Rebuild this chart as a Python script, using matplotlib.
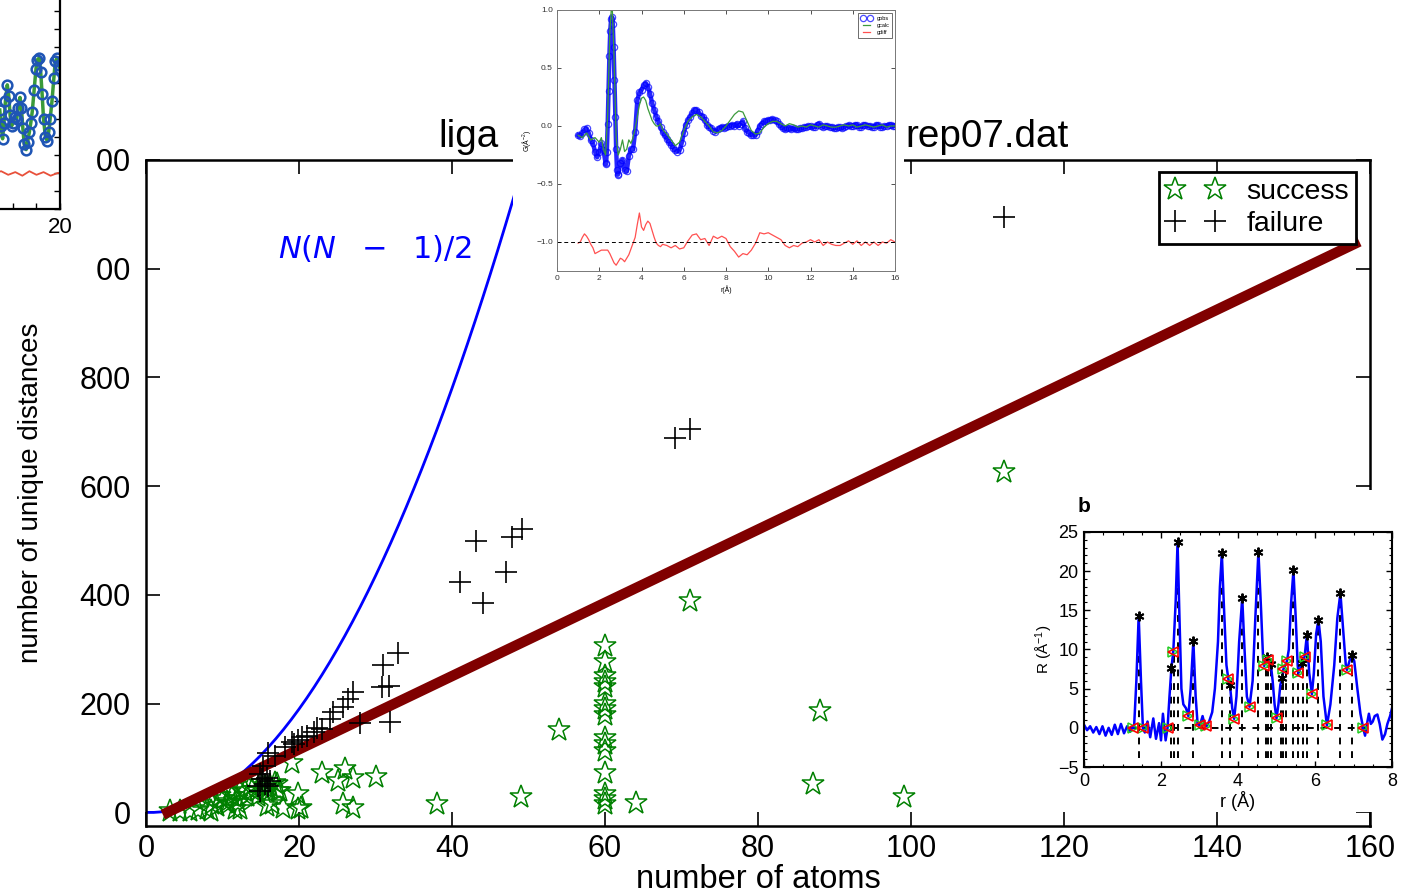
import matplotlib.pyplot as plt
import numpy as np
from matplotlib.patches import Rectangle
from matplotlib.ticker import MultipleLocator

plt.rcParams["font.family"] = ["Liberation Sans", "DejaVu Sans"]
plt.rcParams["mathtext.fontset"] = "custom"
plt.rcParams["mathtext.rm"] = "Liberation Sans"
plt.rcParams["mathtext.it"] = "Liberation Sans:italic"
plt.rcParams["mathtext.bf"] = "Liberation Sans:bold"

W, H = 1417, 894

# ---- main panel data -------------------------------------------------------
pair_n = list(range(0, 51))
pair_count = [0, 0, 1, 3, 6, 10, 15, 21, 28, 36, 45, 55, 66, 78, 91, 105, 120, 136,
              153, 171, 190, 210, 231, 253, 276, 300, 325, 351, 378, 406, 435, 465,
              496, 528, 561, 595, 630, 666, 703, 741, 780, 820, 861, 903, 946, 990,
              1035, 1081, 1128, 1176, 1225]

fit_x = [2.2, 158.6]
fit_y = [-4, 1050]

success_x = [3.1, 4.5, 5.8, 6.8, 8.0, 8.5, 9.3, 8.6, 10.0, 10.7, 10.6, 9.7, 11.0, 11.3,
             11.6, 11.9, 12.0, 12.3, 12.3, 13.0, 13.2, 13.6, 13.9, 14.5, 14.7, 14.9,
             15.6, 15.8, 15.8, 16.2, 16.5, 16.9, 17.1, 17.3, 17.5, 17.9, 19.1, 19.9,
             19.9, 20.2, 23.0, 25.1, 26.0, 27.1, 30.0, 25.8, 27.1, 38.1, 49.0, 54.0,
             60, 60, 60, 60, 60, 60, 60, 60, 60, 60, 60, 60, 60, 60, 60,
             64.0, 71.1, 87.2, 88.1, 99.1, 112.2]
success_y = [2, 2, 3, 5, 6, 2, 11, 15, 24, 15, 20, 30, 37, 30,
             6, 24, 18, 42, 6, 39, 30, 48, 42, 39, 30, 55,
             46, 37, 11, 48, 15, 55, 52, 39, 39, 8, 90, 33,
             6, 9, 73, 57, 79, 64, 66, 15, 9, 15, 28, 151,
             306, 277, 251, 239, 230, 199, 190, 180, 137, 125, 113, 73, 33, 24, 15,
             18, 388, 52, 186, 29, 626]

failure_x = [112.2, 69.1, 71.1, 41.1, 43.1, 44.1, 47.0, 47.9, 49.1, 33.0, 31.0, 31.7,
             30.9, 31.9, 28.0, 27.1, 26.4, 25.7, 24.5, 24.1, 23.0, 22.4, 21.9, 21.0,
             20.4, 19.9, 19.3, 18.2, 19.1, 16.9, 16.0, 15.3, 14.9, 15.2, 15.6, 16.0,
             14.7, 14.9, 15.8, 16.2]
failure_y = [1095, 688, 705, 423, 500, 385, 442, 506, 521, 294, 272, 232,
             230, 167, 165, 221, 208, 193, 184, 171, 153, 156, 147, 140,
             138, 134, 125, 120, 129, 103, 110, 85, 70, 61, 52, 48,
             48, 39, 64, 57]

x_ticks = list(range(0, 161, 20))
y_ticks = list(range(0, 1201, 200))

# visible pieces of the title (its middle is hidden under the inset)
title_left = "liga"
title_right = "rep07.dat"

# ---- top centre inset (PDF fit) --------------------------------------------
r_obs = np.concatenate([np.arange(10, 24) / 10, np.arange(232, 289, 4) / 100,
                        np.arange(29, 161) / 10])
g_obs = [-0.08, -0.09, -0.06, -0.03, -0.02, -0.06, -0.12, -0.15, -0.22, -0.27,
         -0.22, -0.15, -0.21, -0.32,
         -0.33, -0.22, 0.02, 0.30, 0.60, 0.82, 0.92, 0.94, 0.88, 0.68, 0.40, 0.08,
         -0.20, -0.38, -0.42,
         -0.41, -0.32, -0.29, -0.38, -0.39, -0.26, -0.20, -0.20, -0.05, 0.22,
         0.29, 0.31, 0.35, 0.37, 0.34, 0.28, 0.20, 0.14, 0.08, 0.04,
         -0.01, -0.05, -0.08, -0.11, -0.14, -0.16, -0.19, -0.21, -0.22, -0.21,
         -0.15, -0.06, 0.01, 0.05, 0.08, 0.11, 0.14, 0.14, 0.12, 0.09,
         0.08, 0.05, 0.01, -0.01, -0.02, -0.04, -0.05, -0.03, -0.02, -0.01,
         -0.02, -0.01, 0.00, 0.00, 0.01, 0.00, 0.02, 0.00, 0.02, 0.04,
         -0.02, -0.05, -0.06, -0.08, -0.08, -0.08, -0.04, 0.00, 0.02, 0.04,
         0.04, 0.05, 0.05, 0.06, 0.05, 0.04, 0.02, 0.00, -0.02, -0.03,
         -0.02, -0.02, -0.03, -0.02, -0.03, -0.03, -0.02, -0.02, -0.01, -0.01,
         0.00, 0.00, -0.01, -0.01, 0.01, 0.02, 0.00, -0.01, 0.00, 0.00,
         -0.01, -0.01, -0.02, -0.02, -0.01, -0.01, -0.02, -0.01, 0.00, 0.01,
         0.00, 0.00, 0.01, 0.01, -0.01, -0.01, 0.01, 0.01, 0.00, 0.00,
         -0.01, -0.01, 0.01, 0.01, -0.01, -0.01, 0.00, 0.00, 0.01, 0.01,
         0.00, 0.00]

r_calc = np.concatenate([np.arange(10, 51) / 10, np.arange(26, 81) / 5])
g_calc = [-0.08, -0.09, -0.10, -0.08, -0.06, -0.09, -0.12, -0.11, -0.10, -0.12,
          -0.14, -0.10, -0.20, -0.25, 0.10, 0.80, 1.10, 0.60, -0.10, -0.25,
          -0.20, -0.12, -0.22, -0.20, -0.12, -0.15, -0.10, -0.02, 0.08, 0.18,
          0.24, 0.25, 0.22, 0.15, 0.10, 0.05, 0.02, 0.00, 0.00, 0.02,
          -0.03,
          -0.07, -0.12, -0.17, -0.14, -0.04, 0.04, 0.08, 0.10, 0.08, 0.04,
          0.00, -0.05, -0.06, -0.04, 0.00, 0.05, 0.10, 0.13, 0.12, 0.04,
          -0.04, -0.07, -0.06, -0.01, 0.02, 0.04, 0.04, 0.02, 0.00, 0.02,
          0.01, -0.01, 0.00, -0.01, 0.01, 0.00, -0.01, 0.01, 0.00, -0.01,
          -0.01, 0.00, 0.01, 0.00, 0.01, -0.01, 0.00, 0.01, 0.00, -0.01,
          0.00, 0.01, -0.01, 0.00, 0.00]
g_diff = [-1.01, -1.00, -0.96, -0.93, -0.95, -0.98, -1.02, -1.05, -1.10, -1.09,
          -1.08, -1.07, -1.07, -1.07, -1.07, -1.10, -1.14, -1.18, -1.20, -1.17,
          -1.14, -1.15, -1.17, -1.14, -1.11, -1.06, -1.01, -0.96, -0.85, -0.75,
          -0.87, -0.90, -0.85, -0.82, -0.84, -0.90, -0.96, -1.01, -1.03, -1.04,
          -1.02,
          -1.03, -1.05, -1.03, -1.06, -1.05, -0.99, -0.94, -0.93, -0.98, -0.97,
          -1.03, -0.95, -0.97, -0.95, -0.97, -1.04, -1.08, -1.13, -1.10, -1.11,
          -1.07, -1.01, -0.92, -0.93, -0.92, -0.94, -0.96, -0.98, -1.03, -1.05,
          -1.03, -1.04, -1.01, -1.00, -0.98, -1.00, -0.98, -1.03, -1.00, -1.02,
          -1.03, -1.03, -1.01, -0.99, -1.02, -0.99, -1.03, -1.00, -1.03, -1.00,
          -1.03, -1.00, -1.01, -0.98, -1.00]

# ---- right inset "b" ---------------------------------------------------------
b_r = [0.00, 0.08, 0.16, 0.24, 0.32, 0.40, 0.48, 0.56, 0.64, 0.72, 0.80, 0.88, 0.96, 1.04, 1.12, 1.20,
       1.26, 1.30, 1.36, 1.42, 1.48, 1.53, 1.58, 1.65, 1.72, 1.80, 1.87, 1.95, 2.00, 2.05, 2.12, 2.17,
       2.22, 2.27, 2.32, 2.38, 2.43, 2.48, 2.53, 2.58, 2.65, 2.71, 2.77, 2.84, 2.90, 2.95, 3.01, 3.08,
       3.13, 3.18, 3.25, 3.33, 3.40, 3.48, 3.53, 3.58, 3.63, 3.70, 3.75, 3.79, 3.85, 3.90, 3.96, 4.03,
       4.11, 4.17, 4.23, 4.30, 4.38, 4.45, 4.53, 4.60, 4.65, 4.68, 4.72, 4.76, 4.79, 4.85, 4.90, 4.95,
       5.00, 5.05, 5.10, 5.15, 5.18, 5.23, 5.27, 5.32, 5.38, 5.44, 5.50, 5.55, 5.57, 5.62, 5.67, 5.73,
       5.79, 5.85, 5.92, 5.97, 6.03, 6.09, 6.15, 6.22, 6.31, 6.40, 6.50, 6.58, 6.66, 6.74, 6.80, 6.83,
       6.90, 6.96, 7.02, 7.10, 7.18, 7.25, 7.30, 7.35, 7.40, 7.45, 7.50, 7.55, 7.62, 7.68, 7.75, 7.82,
       7.88, 7.95, 8.00]
b_R = [0.4, -0.3, 0.2, -0.6, 0.1, -0.8, 0.2, -1.0, 0.0, -0.9, 0.4, -0.8, 0.5, -0.7, 0.2, -0.5,
       0.2, 0.0, 6.0, 14.3, 6.0, 0.0, -0.6, 0.8, -1.2, 1.2, -1.4, 0.6, -1.6, 1.8, -1.6, 0.0,
       4.0, 7.6, 9.8, 16.0, 23.7, 14.0, 5.0, 3.0, 2.5, 1.5, 5.0, 11.1, 4.0, 0.5, 0.3, 1.5,
       0.5, 0.2, 0.8, 2.0, 5.0, 11.0, 18.0, 22.3, 16.0, 8.0, 6.2, 5.5, 2.5, 1.15, 4.0, 11.0,
       16.6, 10.0, 4.0, 2.7, 6.0, 14.0, 22.5, 15.0, 9.0, 7.9, 8.8, 9.0, 8.6, 8.2, 6.0, 3.0,
       1.2, 3.0, 5.5, 6.3, 7.5, 8.0, 8.5, 10.0, 16.0, 20.1, 14.0, 8.0, 7.0, 7.6, 8.3, 9.1,
       11.9, 7.0, 4.3, 7.0, 12.0, 13.8, 11.0, 4.0, 0.3, 3.0, 8.0, 14.0, 17.2, 12.0, 8.0, 7.4,
       8.6, 9.3, 8.5, 5.0, 1.8, 0.0, -1.0, 0.5, 1.8, 0.5, 0.8, 1.5, 1.7, 0.5, -1.5, -0.8,
       0.5, 1.5, 2.5]
pk_r = [1.42, 2.27, 2.43, 2.84, 3.58, 3.79, 4.11, 4.53, 4.75, 4.85, 5.15, 5.44, 5.67, 5.79, 6.09, 6.66, 6.96]
pk_R = [14.3, 7.6, 23.7, 11.1, 22.3, 5.5, 16.6, 22.5, 9.0, 8.2, 6.3, 20.1, 8.3, 11.9, 13.8, 17.2, 9.3]
dist_r = [1.42, 2.27, 2.35, 2.43, 2.84, 3.58, 3.79, 4.11, 4.53, 4.72, 4.78, 4.85, 5.12, 5.18, 5.25,
          5.44, 5.57, 5.70, 5.79, 6.09, 6.66, 6.96]
dist_top = [14.3, 7.6, 9.8, 23.7, 11.1, 22.3, 5.5, 16.6, 22.5, 8.8, 9.0, 8.2, 5.5, 7.5, 8.3,
            20.1, 7.0, 9.1, 11.9, 13.8, 17.2, 9.3]
mn_r = [1.26, 1.54, 2.19, 2.32, 2.71, 3.01, 3.18, 3.75, 3.90, 4.30, 4.68, 4.79, 5.00, 5.18, 5.27,
        5.57, 5.73, 5.92, 6.31, 6.83, 7.25]
mn_R = [0.0, 0.0, 0.0, 9.7, 1.5, 0.3, 0.2, 6.2, 1.15, 2.7, 7.9, 8.6, 1.2, 7.5, 8.5,
        7.0, 9.1, 4.3, 0.3, 7.4, 0.0]

# ---- top-left cropped panel ---------------------------------------------------
tl_x = [7.2, 7.5, 7.8, 8.1, 8.4, 8.8, 9.1, 9.4, 9.7, 10.0,
        10.4, 10.8, 11.1, 11.5, 11.8, 12.1, 12.4, 12.8, 13.1, 13.5,
        13.8, 14.1, 14.5, 14.9, 15.2, 15.6, 15.9, 16.2, 16.5, 16.9,
        17.3, 17.6, 17.9, 18.3, 18.7, 19.0, 19.4, 19.8, 20.0]
tl_y = [5.5, 4.6, 3.9, 4.8, 6.0, 6.9, 6.3, 5.2, 4.6, 4.8,
        5.1, 5.0, 5.6, 6.2, 5.6, 4.5, 3.6, 3.3, 3.7, 4.3,
        4.8, 5.4, 6.6, 7.8, 8.3, 8.4, 7.6, 6.4, 5.0, 4.0,
        3.8, 4.3, 5.0, 6.0, 7.3, 8.2, 8.4, 8.0, 7.8]
tl_rx = [6.0, 7.5, 9.0, 10.5, 12.0, 13.5, 15.0, 16.5, 18.0, 19.5, 20.0]
tl_ry = [2.0, 2.1, 1.9, 2.05, 1.85, 2.1, 1.9, 2.05, 1.85, 2.0, 2.0]


def box(x0, y0, x1, y1):
    """pixel box (origin top-left) -> figure fraction rect"""
    return [x0 / W, 1 - y1 / H, (x1 - x0) / W, (y1 - y0) / H]


def white(fig, x0, y0, x1, y1):
    l, b, w, h = box(x0, y0, x1, y1)
    fig.add_artist(Rectangle((l, b), w, h, transform=fig.transFigure,
                             facecolor="white", edgecolor="none", zorder=2))


fig = plt.figure(figsize=(W / 100, H / 100), dpi=100)

# main axes
ax = fig.add_axes(box(146, 160, 1370, 826))
ax.plot(pair_n, pair_count, color="blue", lw=2, zorder=2)
ax.plot(success_x, success_y, ls="none", marker="*", ms=17, mfc="none", mec="green",
        mew=1.1, label="success", zorder=3)
ax.plot(fit_x, fit_y, color="#800000", lw=7.5, solid_capstyle="butt", zorder=4)
ax.plot(failure_x, failure_y, ls="none", marker="+", ms=16, mec="black", mew=1.2,
        label="failure", zorder=5)
ax.text(17.3, 1036, r"$N(N\enspace\,-\enspace\,1)/2$", color="blue", fontsize=22,
        va="center", math_fontfamily="dejavusans")
ax.set_xlim(0, 160)
ax.set_ylim(-25, 1200)
ax.set_xticks(x_ticks)
ax.set_yticks(y_ticks)
ax.tick_params(direction="in", top=True, right=True, length=10, width=1.2, labelsize=22)
ax.tick_params(axis="x", pad=6)
ax.tick_params(axis="y", pad=11)
for s in ax.spines.values():
    s.set_linewidth(1.8)
ax.text(0.239, 1.0188, title_left, transform=ax.transAxes, fontsize=27.8,
        ha="left", va="baseline")
ax.text(0.7541, 1.0188, title_right, transform=ax.transAxes, fontsize=27.8,
        ha="right", va="baseline")
ax.set_xlabel("number of atoms", fontsize=23.5)
ax.xaxis.set_label_coords(0.5, -0.0575)
ax.set_ylabel("number of unique distances", fontsize=20)
ax.yaxis.set_label_coords(-0.083, 0.5)
leg = ax.legend(loc="upper right", bbox_to_anchor=(0.9886, 0.982), borderaxespad=0,
                numpoints=2, fontsize=20.5, handlelength=2.0, handletextpad=0.8,
                borderpad=0.25, labelspacing=0.2, fancybox=False, framealpha=1,
                edgecolor="black")
leg.get_frame().set_linewidth(2)

# top centre inset
white(fig, 513, 0, 904, 297)
axc = fig.add_axes(box(557, 10, 895, 271))
axc.set_zorder(3)
axc.plot(r_obs, g_obs, color="blue", lw=3.2, alpha=0.85, solid_joinstyle="round")
axc.plot(r_obs, g_obs, ls="none", marker="o", ms=4.5, mfc="none", mec="blue", mew=0.9,
         alpha=0.7, label="gobs")
axc.plot(r_calc, g_calc, color="#3c9a3c", lw=0.9, label="gcalc")
axc.plot(r_calc, g_diff, color="#ff5050", lw=0.9, label="gdiff")
axc.axhline(-1.0, color="black", ls="--", lw=0.7, dashes=(4, 3))
axc.set_xlim(0, 16)
axc.set_ylim(-1.25, 1.0)
axc.set_xticks(range(0, 17, 2))
axc.set_yticks([-1.0, -0.5, 0.0, 0.5, 1.0])
axc.yaxis.set_major_formatter(plt.FuncFormatter(lambda v, p: f"{v:.1f}".replace("-", "\u2212")))
axc.tick_params(direction="in", top=True, right=True, length=3, width=0.6,
                labelsize=6, pad=3, colors="#333333")
for s in axc.spines.values():
    s.set_linewidth(0.7)
    s.set_color("#777777")
axc.set_xlabel("r(Å)", fontsize=5, labelpad=2)
axc.set_ylabel("G(Å$^{-2}$)", fontsize=5, labelpad=2)
lc = axc.legend(loc="upper right", fontsize=4, numpoints=2, handlelength=2,
                fancybox=False, framealpha=1, edgecolor="#555555", borderpad=0.5,
                labelspacing=0.4)
lc.get_frame().set_linewidth(0.6)

# right inset b
white(fig, 1030, 490, 1417, 812)
axb = fig.add_axes(box(1084, 532, 1392, 767))
axb.set_zorder(3)
axb.vlines(dist_r, -3.9, dist_top, colors="black", linestyles=(0, (3.5, 3.5)), lw=1.4)
axb.hlines(0, 1.2, 7.3, colors="black", linestyles=(0, (3.5, 3.5)), lw=1.4)
axb.plot(b_r, b_R, color="blue", lw=1.8)
axb.plot(pk_r, pk_R, ls="none", marker=(6, 2, 0), ms=7, mec="black", mew=1.4)
axb.plot(mn_r, mn_R, ls="none", marker=">", ms=7, mfc="none", mec="#22cc22", mew=1.1)
axb.plot(mn_r, mn_R, ls="none", marker="<", ms=7, mfc="none", mec="red", mew=1.2)
axb.set_xlim(0, 8)
axb.set_ylim(-5, 25)
axb.set_xticks([0, 2, 4, 6, 8])
axb.set_yticks([-5, 0, 5, 10, 15, 20, 25])
axb.yaxis.set_major_formatter(plt.FuncFormatter(lambda v, p: f"{v:g}".replace("-", "\u2212")))
axb.xaxis.set_minor_locator(MultipleLocator(0.5))
axb.yaxis.set_minor_locator(MultipleLocator(1))
axb.tick_params(which="both", direction="in", top=True, right=True, labelsize=13, pad=4)
axb.tick_params(which="major", length=4, width=1)
axb.tick_params(which="minor", length=2, width=0.8)
for s in axb.spines.values():
    s.set_linewidth(1.5)
axb.set_xlabel("r (Å)", fontsize=13, labelpad=1)
axb.set_ylabel("R (Å$^{-1}$)", fontsize=11, labelpad=2)
fig.text(1078 / W, 1 - 507 / H, "b", fontsize=15, fontweight="bold", va="center",
         zorder=4)

# top-left cropped panel
white(fig, 0, 0, 96, 285)
axt = fig.add_axes(box(-260, -10, 60, 209))
axt.set_zorder(3)
axt.plot(tl_rx, tl_ry, color="#e8503a", lw=1.3)
axt.plot(tl_x, tl_y, color="#3a9a3a", lw=2.5)
axt.plot(tl_x, tl_y, ls="none", marker="o", ms=7, mfc="none", mec="#1f55b5", mew=1.8)
axt.set_xlim(-48, 20)
axt.set_ylim(0, 12.17)
axt.set_xticks([0, 20])
axt.set_xticklabels(["", "20"])
axt.xaxis.set_minor_locator(MultipleLocator(5))
axt.yaxis.set_major_locator(MultipleLocator(1))
axt.tick_params(which="both", direction="in", left=False, right=True, labelleft=False,
                labelsize=16, length=4, width=1, pad=6)
for s in axt.spines.values():
    s.set_linewidth(1.6)

fig.savefig("out.png", dpi=100)
